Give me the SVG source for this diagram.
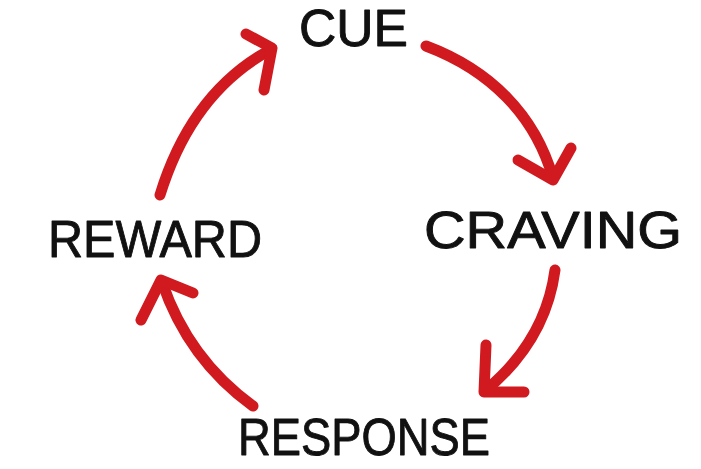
<svg xmlns="http://www.w3.org/2000/svg" width="701" height="469" viewBox="0 0 701 469">
<style>
.lbl{font-family:"Liberation Sans","DejaVu Sans",sans-serif;font-size:51px;fill:#111;stroke:#111;stroke-width:0.9;stroke-linejoin:round}
.arr{fill:none;stroke:#d01a1f;stroke-width:11;stroke-linecap:round;stroke-linejoin:round}
</style>
<rect width="701" height="469" fill="#fff"/>
<g id="connectors">
<g id="e-reward-cue"><path class="arr" d="M160,195 C180,130 215,80 270,50"/><path class="arr" d="M246,34 L272,48 L264,90"/></g>
<g id="e-cue-craving"><path class="arr" d="M426,46 C490,70 535,115 553,178"/><path class="arr" d="M518,160 L553,180 L571,148"/></g>
<g id="e-craving-response"><path class="arr" d="M555,270 C549,315 528,355 486,390"/><path class="arr" d="M486,345 L484,392 L524,392"/></g>
<g id="e-response-reward"><path class="arr" d="M253,406 C210,375 180,335 162,282"/><path class="arr" d="M141,320 L161,280 L193,293"/></g>
</g>
<g id="cue"><text class="lbl" x="299" y="46" textLength="109" lengthAdjust="spacingAndGlyphs">CUE</text></g>
<g id="craving"><text class="lbl" x="424" y="248" textLength="258" lengthAdjust="spacingAndGlyphs">CRAVING</text></g>
<g id="response"><text class="lbl" x="238" y="455" textLength="252" lengthAdjust="spacingAndGlyphs">RESPONSE</text></g>
<g id="reward"><text class="lbl" x="48" y="257" textLength="214" lengthAdjust="spacingAndGlyphs">REWARD</text></g>
</svg>
